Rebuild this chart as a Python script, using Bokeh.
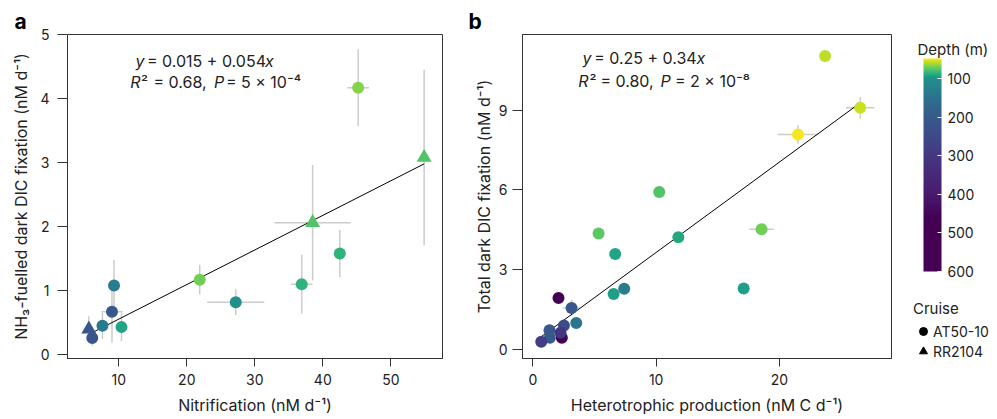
import numpy as np
from bokeh.plotting import figure
from bokeh.layouts import row
from bokeh.models import (ColumnDataSource, Range1d, FixedTicker, LinearColorMapper,
                          ColorBar, Label, Legend, LegendItem)
from bokeh.transform import transform
from bokeh.palettes import Viridis256
from bokeh.embed import file_html
from bokeh.resources import INLINE

FONT = "Inter"
TXT = "#222222"

# ---------------- data: panel a ----------------
a_nitrification = [45.2, 54.9, 38.5, 42.5, 36.9, 21.9, 27.2, 9.3, 9.0, 7.6, 10.4, 5.6, 6.1]
a_nitrification_err = [1.6, 0.0, 5.6, 0.0, 1.6, 0.3, 4.2, 0.3, 1.6, 0.4, 0.6, 0.4, 0.3]
a_dic = [4.17, 3.08, 2.06, 1.58, 1.10, 1.17, 0.82, 1.08, 0.67, 0.45, 0.43, 0.40, 0.26]
a_dic_err = [0.60, 1.37, 0.90, 0.37, 0.46, 0.23, 0.20, 0.40, 0.48, 0.20, 0.22, 0.20, 0.12]
a_depth = [65, 76, 76, 85, 85, 69, 100, 130, 208, 135, 91, 208, 215]
a_cruise = ["AT50-10", "RR2104", "RR2104", "AT50-10", "AT50-10", "AT50-10", "AT50-10",
            "AT50-10", "AT50-10", "AT50-10", "AT50-10", "RR2104", "AT50-10"]
a_fit = (0.015, 0.054)

# ---------------- data: panel b ----------------
b_production = [23.7, 26.55, 21.5, 10.25, 5.33, 18.55, 11.8, 6.68, 6.55, 7.41, 17.1,
                2.08, 3.14, 3.52, 2.52, 1.35, 2.35, 2.25, 1.38, 0.68]
b_production_err = [0.0, 1.15, 1.65, 0.1, 0.1, 1.0, 0.1, 0.1, 0.3, 0.1, 0.1,
                    0.1, 0.7, 0.1, 0.1, 0.1, 0.1, 0.1, 0.1, 0.1]
b_dic = [11.04, 9.09, 8.09, 5.92, 4.36, 4.52, 4.22, 3.59, 2.09, 2.28, 2.29,
         1.94, 1.56, 1.00, 0.90, 0.72, 0.44, 0.63, 0.44, 0.29]
b_dic_err = [0.1, 0.4, 0.35, 0.15, 0.2, 0.1, 0.15, 0.1, 0.1, 0.1, 0.1,
             0.1, 0.3, 0.1, 0.1, 0.1, 0.1, 0.1, 0.1, 0.1]
b_depth = [57, 54, 47, 76, 73, 69, 90, 92, 94, 130, 93,
           500, 208, 140, 240, 208, 500, 300, 200, 283]
b_fit = (0.25, 0.34)

depth_ticks = [100, 200, 300, 400, 500, 600]
depth_low, depth_high = 600, 47
cruise_labels = ["AT50-10", "RR2104"]

# colour scale (viridis, stretched towards shallow depths as in the reference)
ctrl_depth = [47, 55, 65, 80, 100, 150, 200, 300, 400, 460, 600]
ctrl_frac = [1.0, 0.92, 0.82, 0.70, 0.50, 0.37, 0.28, 0.16, 0.07, 0.0, 0.0]
N = 256
pal_depth = depth_low + (depth_high - depth_low) * (np.arange(N) + 0.5) / N
pal_frac = np.interp(pal_depth, ctrl_depth, ctrl_frac)
palette = [Viridis256[int(round(f * 255))] for f in pal_frac]
mapper = LinearColorMapper(palette=palette, low=depth_low, high=depth_high)

ERR = "#cccccc"
H = 419


def style(p):
    p.xgrid.visible = False
    p.ygrid.visible = False
    p.outline_line_color = "#333333"
    p.outline_line_width = 1
    p.background_fill_color = "white"
    p.border_fill_color = "white"
    for ax in (p.xaxis[0], p.yaxis[0]):
        ax.axis_line_color = "#333333"
        ax.major_tick_line_color = "#333333"
        ax.minor_tick_line_color = None
        ax.major_tick_in = 0
        ax.major_label_text_font = FONT
        ax.major_label_text_font_size = "14px"
        ax.major_label_text_color = TXT
        ax.axis_label_text_font = FONT
        ax.axis_label_text_font_size = "16px"
        ax.axis_label_text_font_style = "normal"
        ax.axis_label_text_color = TXT
    p.xaxis.major_tick_out = 8
    p.yaxis.major_tick_out = 10
    p.xaxis.major_label_standoff = 7
    p.xaxis.axis_label_standoff = 7


def add_text(p, x, y, text, italic=False, align="left", size="16px"):
    p.add_layout(Label(x=x, y=y, x_units="screen", y_units="screen", text=text,
                       text_font=FONT, text_font_size=size,
                       text_font_style="italic" if italic else "normal",
                       text_color=TXT, text_baseline="alphabetic", text_align=align))


def panel_letter(p, letter, offset):
    p.title.text = letter
    p.title.text_font = FONT
    p.title.text_font_size = "21px"
    p.title.text_font_style = "bold"
    p.title.text_color = "black"
    p.title.align = "left"
    p.title.offset = offset
    p.title.standoff = 1


def draw_points(p, x, xe, y, ye, depth, markers, fit):
    src = ColumnDataSource(dict(
        x=x, y=y, depth=depth, marker=markers,
        x0=[a - b for a, b in zip(x, xe)], x1=[a + b for a, b in zip(x, xe)],
        y0=[a - b for a, b in zip(y, ye)], y1=[a + b for a, b in zip(y, ye)],
        size=[15 if m == "triangle" else 12 for m in markers]))
    p.segment(x0="x0", y0="y", x1="x1", y1="y", source=src, line_color=ERR, line_width=1.5)
    p.segment(x0="x", y0="y0", x1="x", y1="y1", source=src, line_color=ERR, line_width=1.5)
    xs = [min(x), max(x)]
    p.line(xs, [fit[0] + fit[1] * v for v in xs], line_color="black", line_width=1)
    p.scatter(x="x", y="y", marker="marker", size="size", source=src,
              fill_color=transform("depth", mapper), line_color=None)


# ---------------- panel a ----------------
pa = figure(width=466, height=H, x_range=Range1d(2.46, 57.6), y_range=Range1d(-0.06, 5.0),
            toolbar_location=None, output_backend="svg",
            min_border_left=67, min_border_right=24, min_border_top=33, min_border_bottom=61)
style(pa)
panel_letter(pa, "a", -53)
pa.xaxis.ticker = FixedTicker(ticks=[10, 20, 30, 40, 50])
pa.yaxis.ticker = FixedTicker(ticks=[0, 1, 2, 3, 4, 5])
pa.xaxis.axis_label = "Nitrification (nM d\u207b\u00b9)"
pa.yaxis.axis_label = "NH\u2083-fuelled dark DIC fixation (nM d\u207b\u00b9)"
pa.yaxis.major_label_standoff = 8
pa.yaxis.axis_label_standoff = 6
a_markers = ["circle" if c == "AT50-10" else "triangle" for c in a_cruise]
draw_points(pa, a_nitrification, a_nitrification_err, a_dic, a_dic_err, a_depth, a_markers, a_fit)

add_text(pa, 68, 298, "y", italic=True)
add_text(pa, 139, 298, "= 0.015 + 0.054", align="center")
add_text(pa, 197.5, 298, "x", italic=True)
add_text(pa, 62.7, 276.5, "R", italic=True)
add_text(pa, 73.5, 276.5, "\u00b2")
add_text(pa, 112.5, 276.5, "= 0.68,", align="center")
add_text(pa, 146.5, 276.5, "P", italic=True)
add_text(pa, 196, 276.5, "= 5 \u00d7 10\u207b\u2074", align="center")

# ---------------- panel b ----------------
pb = figure(width=427, height=H, x_range=Range1d(-0.84, 29.09), y_range=Range1d(-0.34, 11.85),
            toolbar_location=None, output_backend="svg",
            min_border_left=56, min_border_right=2, min_border_top=34, min_border_bottom=60)
style(pb)
panel_letter(pb, "b", -54)
pb.xaxis.ticker = FixedTicker(ticks=[0, 10, 20])
pb.yaxis.ticker = FixedTicker(ticks=[0, 3, 6, 9])
pb.xaxis.axis_label = "Heterotrophic production (nM C d\u207b\u00b9)"
pb.yaxis.axis_label = "Total dark DIC fixation (nM d\u207b\u00b9)"
pb.yaxis.major_label_standoff = 5
pb.yaxis.axis_label_standoff = 2
draw_points(pb, b_production, b_production_err, b_dic, b_dic_err, b_depth,
            ["circle"] * len(b_dic), b_fit)

add_text(pb, 60, 300.5, "y", italic=True)
add_text(pb, 122.9, 300.5, "= 0.25 + 0.34", align="center")
add_text(pb, 174, 300.5, "x", italic=True)
add_text(pb, 55.7, 277.5, "R", italic=True)
add_text(pb, 67, 277.5, "\u00b2")
add_text(pb, 104.5, 277.5, "= 0.80,", align="center")
add_text(pb, 138, 277.5, "P", italic=True)
add_text(pb, 190, 277.5, "= 2 \u00d7 10\u207b\u2078", align="center")

# ---------------- colour bar + legend ----------------
pc = figure(width=104, height=H, x_range=Range1d(0, 1), y_range=Range1d(0, 1),
            toolbar_location=None, output_backend="svg",
            x_axis_location=None, y_axis_location=None,
            min_border_left=0, min_border_right=0, min_border_top=34, min_border_bottom=60,
            outline_line_color=None)
pc.xgrid.visible = False
pc.ygrid.visible = False

cb = ColorBar(color_mapper=mapper, width=18, height=213, location=(30, 87),
              ticker=FixedTicker(ticks=depth_ticks), padding=0,
              major_label_text_font=FONT, major_label_text_font_size="14px",
              major_label_text_color=TXT, label_standoff=6,
              major_tick_line_color="white", major_tick_in=4, major_tick_out=0,
              minor_tick_line_color=None, bar_line_color=None,
              border_line_color=None, background_fill_color=None)
pc.add_layout(cb, "center")
add_text(pc, 24, 309, "Depth (m)", size="15px")

# legend keys: placeholder glyphs kept outside the (empty) plotting range
src_key_c = ColumnDataSource(dict(x=[-1.0], y=[-1.0]))
src_key_t = ColumnDataSource(dict(x=[-1.0], y=[-1.0]))
r_c = pc.scatter(x="x", y="y", source=src_key_c, marker="circle", size=9,
                 fill_color="black", line_color="black")
r_t = pc.scatter(x="x", y="y", source=src_key_t, marker="triangle", size=11,
                 fill_color="black", line_color="black")
legend = Legend(items=[LegendItem(label=cruise_labels[0], renderers=[r_c]),
                       LegendItem(label=cruise_labels[1], renderers=[r_t])],
                title="Cruise", location=(20, -3),
                title_text_font=FONT, title_text_font_size="15px", title_text_font_style="normal",
                title_text_color=TXT, title_standoff=3,
                label_text_font=FONT, label_text_font_size="14px", label_text_color=TXT,
                glyph_width=20, glyph_height=20, label_height=16, label_standoff=0,
                spacing=-3, padding=0, margin=0,
                border_line_color=None, background_fill_alpha=0)
pc.add_layout(legend, "center")

layout = row(pa, pb, pc)
open("out.html", "w").write(file_html(layout, INLINE))
